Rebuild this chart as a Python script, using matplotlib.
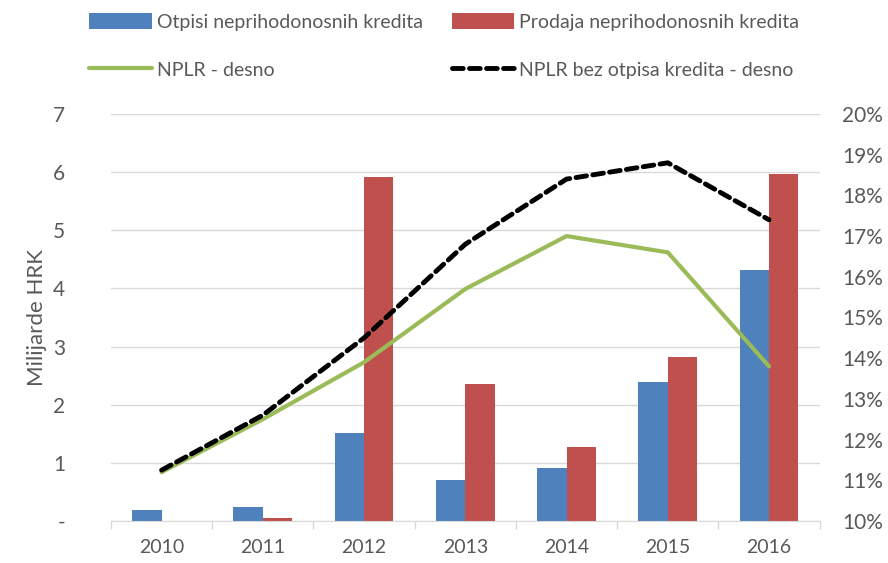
import matplotlib.pyplot as plt
from matplotlib.ticker import FixedLocator, FuncFormatter
import numpy as np

plt.rcParams["font.family"] = ["Lato", "DejaVu Sans"]

years = ["2010", "2011", "2012", "2013", "2014", "2015", "2016"]
otpisi = [0.19, 0.24, 1.51, 0.70, 0.91, 2.39, 4.32]
prodaja = [0.0, 0.05, 5.92, 2.36, 1.27, 2.82, 5.97]
nplr = [11.2, 12.5, 13.9, 15.7, 17.0, 16.6, 13.8]
nplr_bez = [11.25, 12.6, 14.5, 16.8, 18.4, 18.8, 17.4]

BLUE = "#4F81BD"
RED = "#C0504D"
GREEN = "#9BBB59"
GRAY = "#595959"
GRID = "#D9D9D9"

fig = plt.figure(figsize=(8.88, 5.63), dpi=100)
ax = fig.add_axes([0.125, 0.0746, 0.798, 0.723])
ax2 = ax.twinx()

x = np.arange(len(years))
w = 0.29
b1 = ax.bar(x - w / 2, otpisi, w, color=BLUE, label="Otpisi neprihodonosnih kredita", zorder=2)
b2 = ax.bar(x + w / 2, prodaja, w, color=RED, label="Prodaja neprihodonosnih kredita", zorder=2)

l1, = ax2.plot(x, nplr, color=GREEN, lw=3, label="NPLR - desno", solid_capstyle="round")
l2, = ax2.plot(x, nplr_bez, color="black", lw=3.5, ls=(0, (2.2, 1.3)),
               label="NPLR bez otpisa kredita - desno", dash_capstyle="round")

ax.set_xlim(-0.5, len(years) - 0.5)
ax.set_ylim(0, 7)
ax2.set_ylim(10, 20)
ax.set_yticks(range(0, 8))
ax.yaxis.set_major_formatter(FuncFormatter(lambda v, p: "-" if v == 0 else f"{int(v)}"))
ax2.set_yticks(range(10, 21))
ax2.yaxis.set_major_formatter(FuncFormatter(lambda v, p: f"{int(v)}%"))

ax.grid(axis="y", color=GRID, lw=1, zorder=0)
ax.set_axisbelow(True)
ax.set_xticks(x)
ax.set_xticklabels(years)
ax.xaxis.set_minor_locator(FixedLocator(np.arange(-0.5, len(years), 1)))
ax.tick_params(axis="x", which="major", length=0, pad=13, labelsize=14, labelcolor=GRAY)
ax.tick_params(axis="x", which="minor", length=6, color=GRID, width=1)
ax.tick_params(axis="y", length=0, labelsize=15, labelcolor=GRAY, pad=33)
ax2.tick_params(axis="y", length=0, labelsize=15, labelcolor=GRAY, pad=16)

for a in (ax, ax2):
    for s in ("top", "left", "right"):
        a.spines[s].set_visible(False)
    a.spines["bottom"].set_color(GRID)
ax2.spines["bottom"].set_visible(False)

ax.set_ylabel("Milijarde HRK", fontsize=16, color=GRAY, labelpad=4)

fig.legend([b1, l1, b2, l2],
           [b1.get_label(), l1.get_label(), b2.get_label(), l2.get_label()],
           ncol=2, loc="upper left", bbox_to_anchor=(0.081, 1.008), frameon=False,
           fontsize=14, handlelength=3.2, handleheight=0.9, handletextpad=0.25,
           columnspacing=1.5, labelspacing=1.55, labelcolor=GRAY)

fig.savefig("out.png", dpi=100)
